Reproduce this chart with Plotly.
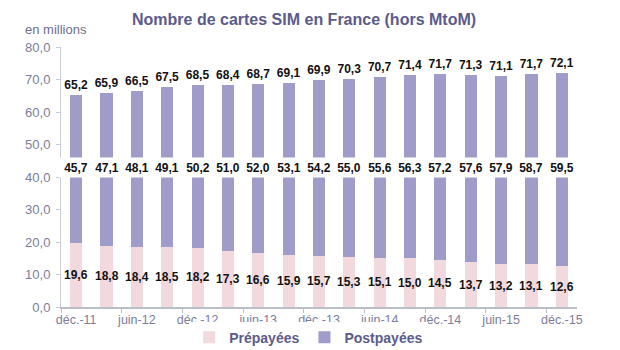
import plotly.graph_objects as go

periods = ["déc.-11", "mars-12", "juin-12", "sept.-12", "déc.-12", "mars-13", "juin-13", "sept.-13",
           "déc.-13", "mars-14", "juin-14", "sept.-14", "déc.-14", "mars-15", "juin-15", "sept.-15", "déc.-15"]
prepayees = [19.6, 18.8, 18.4, 18.5, 18.2, 17.3, 16.6, 15.9, 15.7, 15.3, 15.1, 15.0, 14.5, 13.7, 13.2, 13.1, 12.6]
postpayees = [45.7, 47.1, 48.1, 49.1, 50.2, 51.0, 52.0, 53.1, 54.2, 55.0, 55.6, 56.3, 57.2, 57.6, 57.9, 58.7, 59.5]
totals = [65.2, 65.9, 66.5, 67.5, 68.5, 68.4, 68.7, 69.1, 69.9, 70.3, 70.7, 71.4, 71.7, 71.3, 71.1, 71.7, 72.1]
y_ticks = [0, 10, 20, 30, 40, 50, 60, 70, 80]

PINK = "#f2d9dd"
PURPLE = "#a09cca"
FONT = "Liberation Sans, Arial"
LABEL_FONT = dict(family=FONT, size=12, color="#111111")

def fr(v):
    return f"{v:.1f}".replace(".", ",")

x = list(range(len(periods)))

fig = go.Figure()
fig.add_trace(go.Bar(x=x, y=prepayees, name="Prépayées", marker_color=PINK, marker_line_width=0))
fig.add_trace(go.Bar(x=x, y=postpayees, name="Postpayées", marker_color=PURPLE, marker_line_width=0,
                     text=[f"<b>{fr(t)}</b>" for t in totals], textposition="outside", cliponaxis=False,
                     constraintext="none", textangle=0,
                     textfont=dict(family=FONT, size=12, color="#111111")))

annotations = []
for i in x:
    annotations.append(dict(x=i, y=prepayees[i] / 2, xref="x", yref="y", text=f"<b>{fr(prepayees[i])}</b>",
                            showarrow=False, font=LABEL_FONT))
    annotations.append(dict(x=i, y=42.9, xref="x", yref="y", text=f"<b>{fr(postpayees[i])}</b>",
                            showarrow=False, font=LABEL_FONT, bgcolor="white", borderpad=3,
                            width=28, height=13))

annotations.append(dict(x=-0.074, y=1.067, xref="paper", yref="paper", xanchor="left", yanchor="middle",
                        text="en millions", showarrow=False,
                        font=dict(family=FONT, size=13, color="#6d6d90")))
annotations.append(dict(x=0.471, y=1.104, xref="paper", yref="paper", xanchor="center", yanchor="middle",
                        text="<b>Nombre de cartes SIM en France (hors MtoM)</b>", showarrow=False,
                        font=dict(family=FONT, size=16, color="#5b5b8c")))

fig.update_layout(
    width=620, height=350,
    margin=dict(l=61, r=43, t=47, b=43, autoexpand=False),
    paper_bgcolor="white", plot_bgcolor="white",
    barmode="stack", bargap=0.6,
    showlegend=True,
    legend=dict(orientation="h", x=0.48, xanchor="center", y=-0.118, yanchor="middle",
                font=dict(family=FONT, size=14, color="#5b5b8c", weight="bold"),
                itemwidth=30, traceorder="normal", itemclick=False),
    annotations=annotations,
    xaxis=dict(range=[-0.5, 16.5], tickmode="array", tickvals=x[::2], ticktext=periods[::2],
               ticks="", showline=True, linecolor="#b9bec8", linewidth=2, showgrid=False, zeroline=False,
               tickfont=dict(family=FONT, size=12.5, color="#7c7c9c"),
               minor=dict(tickmode="linear", tick0=-0.5, dtick=2, ticks="outside", ticklen=4,
                          tickcolor="#b9bec8", showgrid=False)),
    yaxis=dict(range=[0, 80], tickmode="array", tickvals=y_ticks, ticktext=[fr(v) for v in y_ticks],
               ticks="outside", ticklen=4, tickcolor="#c8ccd4", showline=True, linecolor="#c8ccd4",
               linewidth=1, showgrid=False, zeroline=False, ticklabelstandoff=3,
               tickfont=dict(family=FONT, size=13, color="#7c7c9c")),
)

fig.write_html("out.html")
